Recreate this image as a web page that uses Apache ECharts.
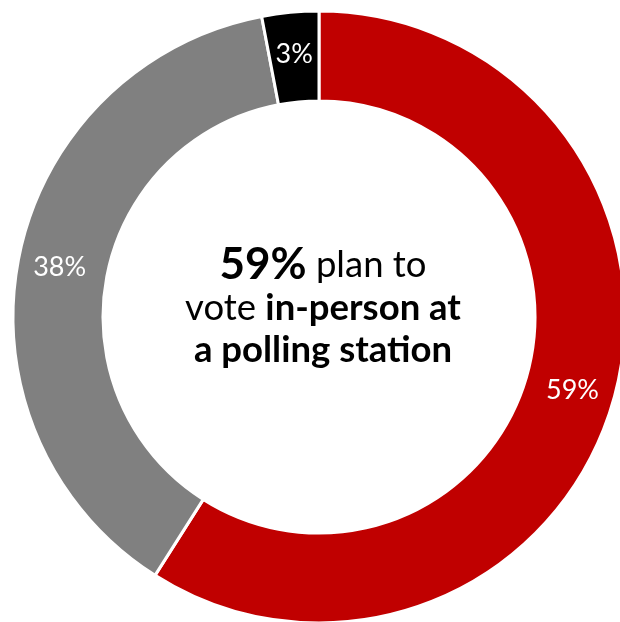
<!DOCTYPE html>
<html><head><meta charset="utf-8">
<script src="https://cdn.jsdelivr.net/npm/echarts@6/dist/echarts.min.js"></script>
<style>html,body{margin:0;padding:0;background:#fff}#c{width:620px;height:622px}</style>
</head><body><div id="c"></div>
<script>
const categories = ['In-person at a polling station', 'Other', 'Unsure'];
const values = [59, 38, 3];
const colors = ['#C00000', '#808080', '#000000'];

const chart = echarts.init(document.getElementById('c'), null, {renderer: 'canvas'});
chart.setOption({
  animation: false,
  backgroundColor: '#fff',
  graphic: [{
    type: 'text',
    x: 323,
    y: 307,
    style: {
      text: '{b1|59%}{r| plan to}\n{r|vote }{b|in-person at}\n{b|a polling station}',
      align: 'center',
      verticalAlign: 'middle',
      fontFamily: 'Lato',
      rich: {
        b1: {fontSize: 44, fontWeight: 'bold', fill: '#000', fontFamily: 'Lato', lineHeight: 44},
        r: {fontSize: 36.5, fontWeight: 'normal', fill: '#000', fontFamily: 'Lato', lineHeight: 42},
        b: {fontSize: 36.5, fontWeight: 'bold', fill: '#000', fontFamily: 'Lato', lineHeight: 42}
      }
    }
  }],
  series: [{
    type: 'pie',
    center: [319, 317],
    radius: [216, 306],
    startAngle: 90,
    clockwise: true,
    data: categories.map((c, i) => ({name: c, value: values[i], itemStyle: {color: colors[i]}})),
    itemStyle: {borderColor: '#fff', borderWidth: 3},
    label: {
      show: true,
      position: 'inside',
      formatter: p => p.value + '%',
      color: '#fff',
      fontSize: 27,
      fontFamily: 'Lato'
    },
    labelLine: {show: false},
    emphasis: {disabled: true}
  }]
});
</script></body></html>
